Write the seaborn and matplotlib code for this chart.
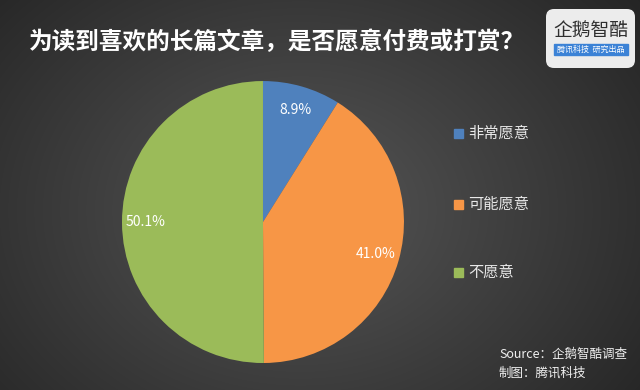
import numpy as np
import seaborn as sns
from matplotlib import pyplot as plt
from matplotlib.patches import FancyBboxPatch, Rectangle

# survey shares (%)
categories = ['非常愿意', '可能愿意', '不愿意']
shares = [8.9, 41.0, 50.1]
pct_labels = ['8.9%', '41.0%', '50.1%']
title = '为读到喜欢的长篇文章，是否愿意付费或打赏？'
source_lines = ['Source：企鹅智酷调查', '制图：腾讯科技']

sns.set_theme(style='white')
plt.rcParams['font.family'] = ['Noto Sans CJK SC', 'DejaVu Sans']

colors = sns.color_palette(['#4f81bd', '#f79646', '#9bbb59'])

fig = plt.figure(figsize=(6.4, 3.9), dpi=100)

# radial dark gradient background
bg = fig.add_axes([0, 0, 1, 1])
yy, xx = np.mgrid[0:390, 0:640]
d = np.sqrt(((xx - 300) / 420.0) ** 2 + ((yy - 210) / 330.0) ** 2)
shade = np.clip(0.34 - 0.19 * d, 0.13, 0.34)
bg.imshow(np.dstack([shade, shade, shade]), aspect='auto', extent=[0, 640, 390, 0])
bg.set_xlim(0, 640)
bg.set_ylim(390, 0)
bg.axis('off')

# pie
ax = fig.add_axes([0.1906, 0.0692, 0.4406, 0.723])
wedges, texts = ax.pie(shares, colors=colors, startangle=90, counterclock=False,
                       wedgeprops=dict(linewidth=0))
for w, lab in zip(wedges, pct_labels):
    ang = np.deg2rad((w.theta1 + w.theta2) / 2)
    r = 0.83
    ax.text(r * np.cos(ang), r * np.sin(ang), lab, ha='center', va='center',
            color='white', fontsize=10)
ax.set_xlim(-1, 1)
ax.set_ylim(-1, 1)
ax.set_aspect('equal')
ax.axis('off')

# legend
leg_y = [133, 204, 272]
for c, name, y in zip(colors, categories, leg_y):
    bg.add_patch(Rectangle((454, y - 4.5), 9, 9, color=c))
    bg.text(468, y, name, color='#e8e8e8', fontsize=11, va='center', ha='left')

# title
bg.text(277, 42, title, color='white', fontsize=17, fontweight='bold',
        ha='center', va='center')

# logo box
bg.add_patch(FancyBboxPatch((546, 9), 89, 59, boxstyle='round,pad=0,rounding_size=8',
                            facecolor='#ececec', edgecolor='none'))
bg.text(591, 30, '企鹅智酷', color='#2f2f2f', fontsize=13.5, ha='center', va='center')
bg.add_patch(Rectangle((554, 44), 74, 11, color='#3b82d6'))
bg.text(591, 49.5, '腾讯科技  研究出品', color='white', fontsize=5.8,
        ha='center', va='center')

# source note
bg.text(499, 354, source_lines[0], color='#f0f0f0', fontsize=9,
        ha='left', va='center')
bg.text(499, 373, source_lines[1], color='#f0f0f0', fontsize=9,
        ha='left', va='center')

fig.savefig('out.png', dpi=100)
